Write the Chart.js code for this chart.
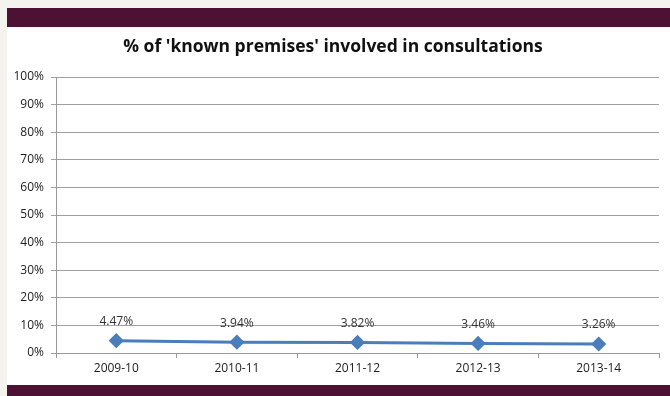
<!DOCTYPE html>
<html>
<head>
<meta charset="utf-8">
<script src="https://cdn.jsdelivr.net/npm/chart.js@4.4.0/dist/chart.umd.min.js"></script>
<style>
  html, body { margin: 0; padding: 0; }
  body { width: 670px; height: 396px; background: #f4f3ee; position: relative; overflow: hidden; }
  .band { position: absolute; left: 7px; right: 0; background: #4d1233; }
  #topBand { top: 8px; height: 19px; }
  #bottomBand { top: 385px; height: 11px; }
  #panel { position: absolute; left: 7px; top: 27px; width: 663px; height: 358px; background: #fff; }
</style>
</head>
<body>
<div class="band" id="topBand"></div>
<div id="panel"><canvas id="consultChart" width="663" height="358"></canvas></div>
<div class="band" id="bottomBand"></div>
<script>
// share of known premises involved in consultations, by year
var years = ['2009-10', '2010-11', '2011-12', '2012-13', '2013-14'];
var percentInvolved = [4.47, 3.94, 3.82, 3.46, 3.26];
var yTicks = [0, 10, 20, 30, 40, 50, 60, 70, 80, 90, 100];

var baseFont = '"Open Sans", Lato, sans-serif';

// writes each value just above its marker
var valueLabels = {
  id: 'valueLabels',
  afterDatasetsDraw: function(chart) {
    var ctx = chart.ctx;
    var meta = chart.getDatasetMeta(0);
    ctx.save();
    ctx.font = '12px ' + baseFont;
    ctx.fillStyle = '#333';
    ctx.textAlign = 'center';
    ctx.textBaseline = 'middle';
    meta.data.forEach(function(pt, i) {
      ctx.fillText(percentInvolved[i].toFixed(2) + '%', pt.x, pt.y - 19);
    });
    ctx.restore();
  }
};

new Chart(document.getElementById('consultChart'), {
  type: 'line',
  data: {
    labels: years,
    datasets: [{
      data: percentInvolved,
      borderColor: '#4a7ebb',
      backgroundColor: '#4a7ebb',
      borderWidth: 3,
      pointStyle: 'rectRot',
      pointRadius: 5.5,
      pointHoverRadius: 5.5,
      tension: 0
    }]
  },
  options: {
    responsive: false,
    animation: false,
    layout: { padding: { left: 0, right: 11, top: 0, bottom: 0 } },
    plugins: {
      legend: { display: false },
      tooltip: { enabled: false },
      title: {
        display: true,
        text: "% of 'known premises' involved in consultations",
        color: '#111',
        font: { family: baseFont, size: 17.5, weight: 'bold' },
        padding: { top: 10, bottom: 19 }
      }
    },
    scales: {
      x: {
        offset: true,
        grid: { offset: true, drawOnChartArea: false, color: '#9a9a9a', tickLength: 5 },
        border: { color: '#9a9a9a' },
        ticks: { color: '#222', font: { family: baseFont, size: 12 }, padding: 3 },
        afterFit: function(scale) { scale.height = 32; }
      },
      y: {
        min: 0,
        max: 100,
        afterBuildTicks: function(scale) {
          scale.ticks = yTicks.map(function(v) { return { value: v }; });
        },
        grid: { color: '#a0a0a0', tickLength: 5 },
        border: { color: '#9a9a9a' },
        ticks: {
          color: '#222',
          font: { family: baseFont, size: 12 },
          padding: 7,
          callback: function(v) { return v + '%'; }
        },
        afterFit: function(scale) { scale.width = 49; }
      }
    }
  },
  plugins: [valueLabels]
});
</script>
</body>
</html>
